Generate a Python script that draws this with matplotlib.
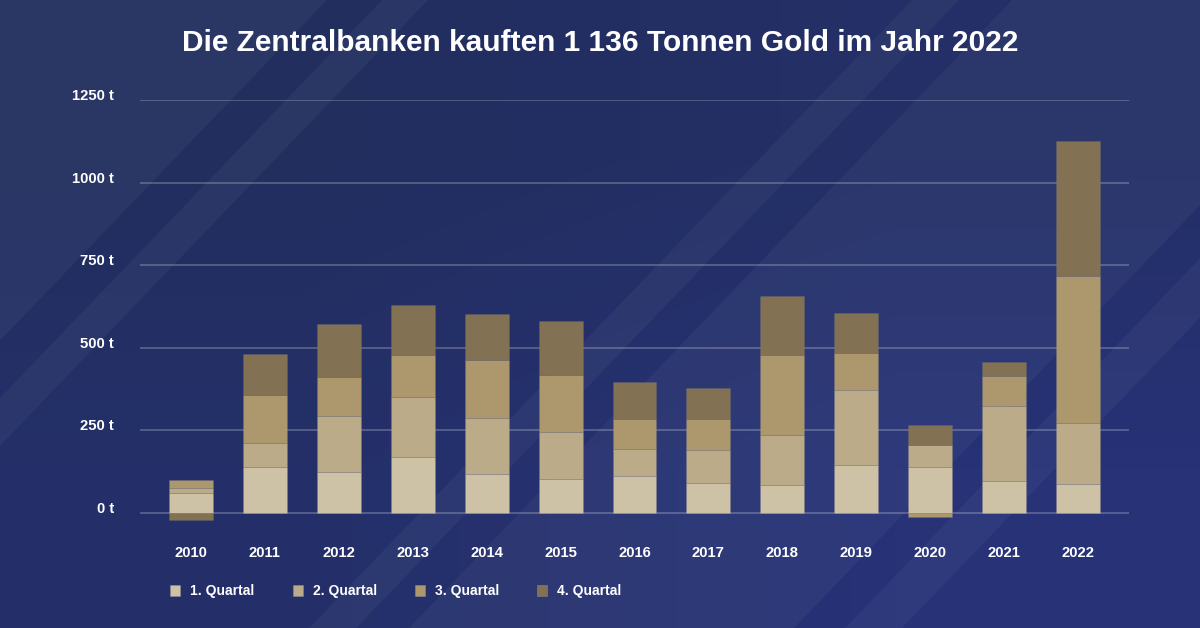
import numpy as np
import matplotlib
matplotlib.use('Agg')
import matplotlib.pyplot as plt
from matplotlib.patches import Patch

plt.rcParams['font.family'] = ['Liberation Sans', 'DejaVu Sans']

years = ['2010', '2011', '2012', '2013', '2014', '2015', '2016',
         '2017', '2018', '2019', '2020', '2021', '2022']
q1 = [60, 139, 124, 170, 118, 103, 112, 91, 85, 145, 139, 97, 88]
q2 = [16, 73, 170, 181, 170, 142, 82, 100, 151, 227, 67, 227, 184]
q3 = [24, 145, 118, 127, 175, 173, 91, 94, 242, 112, -12, 91, 445]
q4 = [-22, 124, 160, 152, 139, 163, 111, 93, 179, 121, 60, 42, 409]
quarters = [q1, q2, q3, q4]
quarter_labels = ['1. Quartal', '2. Quartal', '3. Quartal', '4. Quartal']
colors = ['#CDC1A6', '#BBAB89', '#AD986D', '#827253']
y_ticks = [0, 250, 500, 750, 1000, 1250]
y_labels = ['0 t', '250 t', '500 t', '750 t', '1000 t', '1250 t']

W, H = 1200, 628
fig = plt.figure(figsize=(W / 100, H / 100), dpi=100)

# background gradient plus the pale diagonal bands
bg = fig.add_axes([0, 0, 1, 1], zorder=0)
grad = np.array([[0.0, 0.35], [0.45, 1.0]])
cmap = matplotlib.colors.LinearSegmentedColormap.from_list('bg', ['#222E5E', '#273277'])
bg.imshow(grad, cmap=cmap, extent=[0, W, H, 0], aspect='auto', interpolation='bilinear')
slant = 0.96
bands = [(0, 327), (382, 428), (912, 959), (1012, 1397), (1448, 1505)]
for a, b in bands:
    bg.fill([a, b, b - slant * H, a - slant * H], [0, 0, H, H], color='white', alpha=0.04, lw=0)
bg.set_xlim(0, W)
bg.set_ylim(H, 0)
bg.axis('off')

# axes placed so 0 t / 1250 t and the first bar land where they should
top_px, bottom_px = 100, 529.5
ax = fig.add_axes([140 / W, 1 - bottom_px / H, 989 / W, (bottom_px - top_px) / H], zorder=1)
ax.patch.set_alpha(0)

x = np.arange(len(years))
pos = np.zeros(len(years))
neg = np.zeros(len(years))
for vals, color, label in zip(quarters, colors, quarter_labels):
    vals = np.array(vals, dtype=float)
    bottom = np.where(vals >= 0, pos, neg)
    ax.bar(x, vals, 0.595, bottom=bottom, color=color, label=label, zorder=3,
           edgecolor=(0.5, 0.5, 0.55, 0.15), linewidth=0.6)
    pos += np.clip(vals, 0, None)
    neg += np.clip(vals, None, 0)

ax.set_xlim(-0.69, 12.69)
ax.set_ylim(-50, 1250)
ax.set_yticks(y_ticks)
ax.set_yticklabels(y_labels, fontsize=10.7, fontweight='bold', color='white', va='baseline')
ax.set_xticks(x)
ax.set_xticklabels(years, fontsize=10.7, fontweight='bold', color='white')
ax.tick_params(axis='y', length=0, pad=18.7)
ax.tick_params(axis='x', length=0, pad=11.7)
ax.grid(axis='y', color='white', alpha=0.26, linewidth=1.2, zorder=1)
ax.set_axisbelow(True)
for s in ax.spines.values():
    s.set_visible(False)

handles = [Patch(facecolor=c, edgecolor=(0.6, 0.6, 0.65, 0.5), linewidth=0.5) for c in colors]
fig.legend(handles, quarter_labels, loc='lower left', bbox_to_anchor=(158 / W, 1 - 611 / H),
           ncol=4, frameon=False, labelcolor='white',
           prop={'weight': 'bold', 'size': 10}, handlelength=0.72, handleheight=0.8,
           handletextpad=0.72, columnspacing=2.73)

fig.text(0.5, 1 - 51 / H, 'Die Zentralbanken kauften 1 136 Tonnen Gold im Jahr 2022',
         ha='center', va='baseline', fontsize=21.55, fontweight='bold', color='white')

fig.savefig('out.png', dpi=100)
